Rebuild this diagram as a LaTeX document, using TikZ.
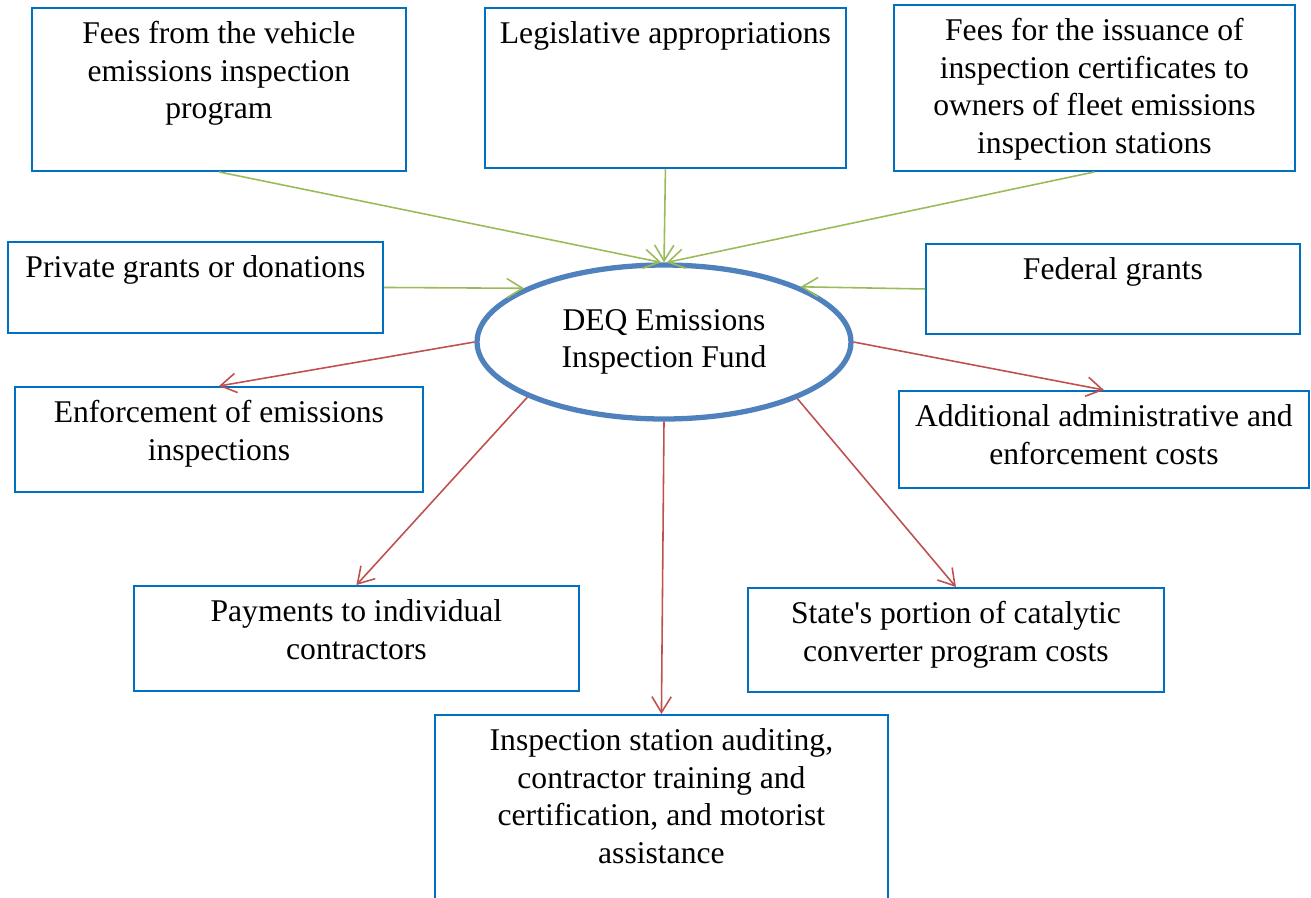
\documentclass[tikz,border=0pt]{standalone}
\usepackage{fontspec}
\setmainfont{Liberation Serif}
\usetikzlibrary{arrows.meta,shapes.geometric}
\definecolor{boxblue}{RGB}{0,112,192}
\definecolor{fundblue}{RGB}{79,129,189}
\definecolor{ingreen}{RGB}{155,187,89}
\definecolor{outred}{RGB}{192,80,77}
\newcommand{\boxtext}[3]{\parbox[t][#2][t]{#1}{\centering\rule{0pt}{0.72cm}#3}}

\begin{document}
\begin{tikzpicture}[x=0.02cm,y=-0.02cm,>={Straight Barb[length=9pt,width=11pt]},
  every node/.style={font=\fontsize{18}{21.3}\selectfont},
  fbox/.style={draw=boxblue,line width=1.1pt,inner sep=0pt,anchor=north west},
  inflow/.style={->,draw=ingreen,line width=0.9pt},
  outflow/.style={->,draw=outred,line width=0.9pt}]
\useasboundingbox (0,0) rectangle (1311,897);
\clip (0,0) rectangle (1311,897);
\node[draw=fundblue,line width=3pt,ellipse,minimum width=7.48cm,minimum height=3.08cm,inner sep=0pt,align=center] (fund) at (664,342) {DEQ Emissions\\Inspection Fund};
\node[fbox] (vfees) at (31,7) {\boxtext{7.48cm}{3.26cm}{Fees from the vehicle\\emissions inspection\\program}};
\node[fbox] (legis) at (484,7) {\boxtext{7.22cm}{3.20cm}{Legislative appropriations}};
\node[fbox] (ifees) at (893,4) {\boxtext{8.02cm}{3.32cm}{Fees for the issuance of\\inspection certificates to\\owners of fleet emissions\\inspection stations}};
\node[fbox] (priv) at (7,241) {\boxtext{7.50cm}{1.82cm}{Private grants or donations}};
\node[fbox] (fed) at (925,243) {\boxtext{7.48cm}{1.80cm}{Federal grants}};
\node[fbox] (enf) at (14,386) {\boxtext{8.16cm}{2.10cm}{Enforcement of emissions\\inspections}};
\node[fbox] (addl) at (898,390) {\boxtext{8.20cm}{1.94cm}{Additional administrative and\\enforcement costs}};
\node[fbox] (pay) at (133,585) {\boxtext{8.90cm}{2.10cm}{Payments to individual\\contractors}};
\node[fbox] (state) at (747,587) {\boxtext{8.32cm}{2.08cm}{State\textquotesingle s portion of catalytic\\converter program costs}};
\node[fbox] (insp) at (434,714) {\boxtext{9.06cm}{3.80cm}{Inspection station auditing,\\contractor training and\\certification, and motorist\\assistance}};
\draw[inflow] (vfees.south) -- (fund.92);
\draw[inflow] (legis.south) -- (fund.north);
\draw[inflow] (ifees.south) -- (fund.88);
\draw[inflow] (priv.east) -- (fund.159);
\draw[inflow] (fed.west) -- (fund.22);
\draw[outflow] (fund.180) -- (enf.north);
\draw[outflow] (fund.0) -- (addl.north);
\draw[outflow] (fund.202) -- (pay.north);
\draw[outflow] (fund.337) -- (state.north);
\draw[outflow] (fund.south) -- (insp.north);
\end{tikzpicture}
\end{document}
